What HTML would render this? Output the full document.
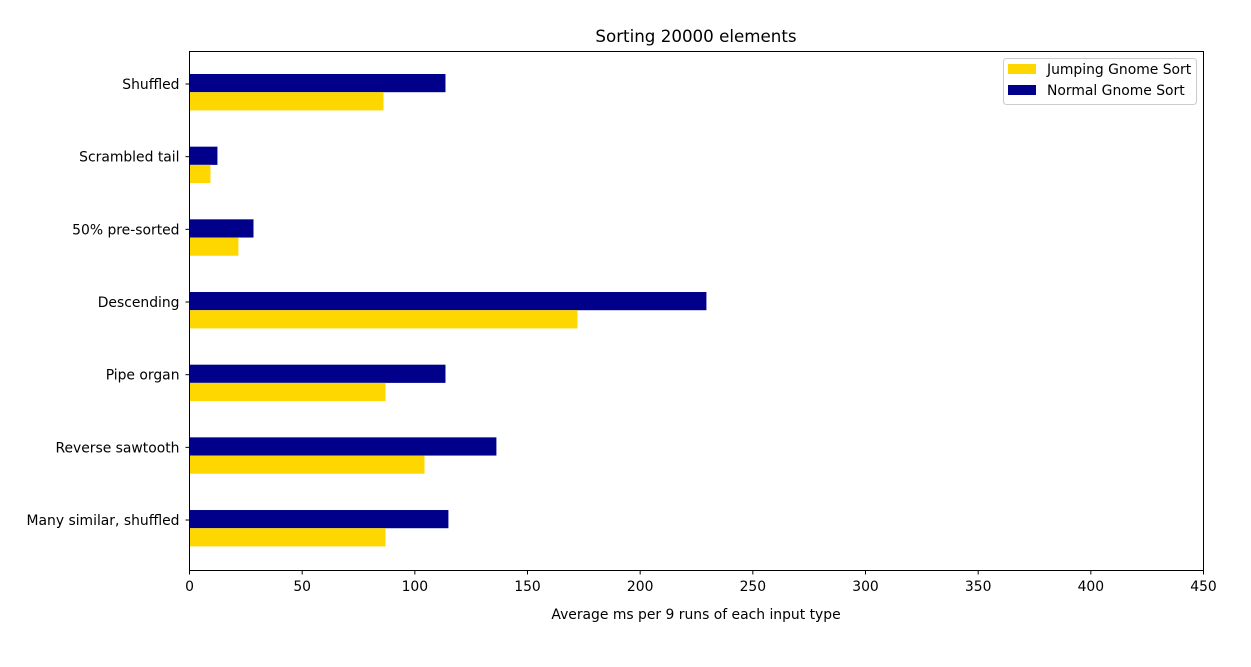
<!DOCTYPE html>
<html><head><meta charset="utf-8"><style>
body{margin:0;background:#fff;}
svg text{font-family:"DejaVu Sans","Liberation Sans",sans-serif;fill:#000;}
</style></head><body>
<svg id="chart" width="1251" height="662" xmlns="http://www.w3.org/2000/svg">
<rect width="1251" height="662" fill="#fff"/>
<text x="696" y="42" font-size="16.7" text-anchor="middle">Sorting 20000 elements</text>
<g id="bars"></g>
<g id="yt"></g>
<g id="xt"></g>
<rect x="189.5" y="51.5" width="1014" height="519" fill="none" stroke="#000" stroke-width="1"/>
<text x="696" y="619" font-size="13.9" text-anchor="middle">Average ms per 9 runs of each input type</text>
<g>
<rect x="1003.5" y="58.5" width="193" height="46" rx="3" fill="#fff" stroke="#ccc"/>
<rect x="1008" y="64" width="28" height="10" fill="#ffd700"/>
<text x="1047" y="74" font-size="13.9">Jumping Gnome Sort</text>
<rect x="1008" y="85" width="28" height="10" fill="#00008b"/>
<text x="1047" y="95" font-size="13.9">Normal Gnome Sort</text>
</g>
</svg>
<script>
const categories=["Shuffled","Scrambled tail","50% pre-sorted","Descending","Pipe organ","Reverse sawtooth","Many similar, shuffled"];
const jumping=[86.1,9.3,21.7,172.2,87,104.3,87];
const normal=[113.6,12.4,28.4,229.4,113.6,136.2,114.9];
const xTicks=[0,50,100,150,200,250,300,350,400,450];
const NS="http://www.w3.org/2000/svg";
const x0=189.5,x1=1203.5,xMax=450;
const xs=v=>x0+v/xMax*(x1-x0);
const yc=i=>84+i*72.67;
const bars=document.getElementById('bars'),yt=document.getElementById('yt'),xt=document.getElementById('xt');
function mk(t,a,p){const e=document.createElementNS(NS,t);for(const k in a)e.setAttribute(k,a[k]);p.appendChild(e);return e;}
categories.forEach((c,i)=>{
  const n=mk('rect',{x:x0,y:yc(i)-10,width:xs(normal[i])-x0,height:18.2,fill:'#00008b'},bars);
  
  
  const j=mk('rect',{x:x0,y:yc(i)+8.2,width:xs(jumping[i])-x0,height:18.2,fill:'#ffd700'},bars);
  
  
  mk('line',{x1:x0-4,x2:x0,y1:yc(i),y2:yc(i),stroke:'#000'},yt);
  const t=mk('text',{x:x0-10,y:yc(i)+5,'font-size':13.9,'text-anchor':'end'},yt);
  t.textContent=c;
  
  
});
xTicks.forEach(v=>{
  mk('line',{x1:xs(v),x2:xs(v),y1:570.5,y2:574.5,stroke:'#000'},xt);
  const t=mk('text',{x:xs(v),y:591,'font-size':13.9,'text-anchor':'middle'},xt);
  t.textContent=v;
  
  
});
</script>
</body></html>
